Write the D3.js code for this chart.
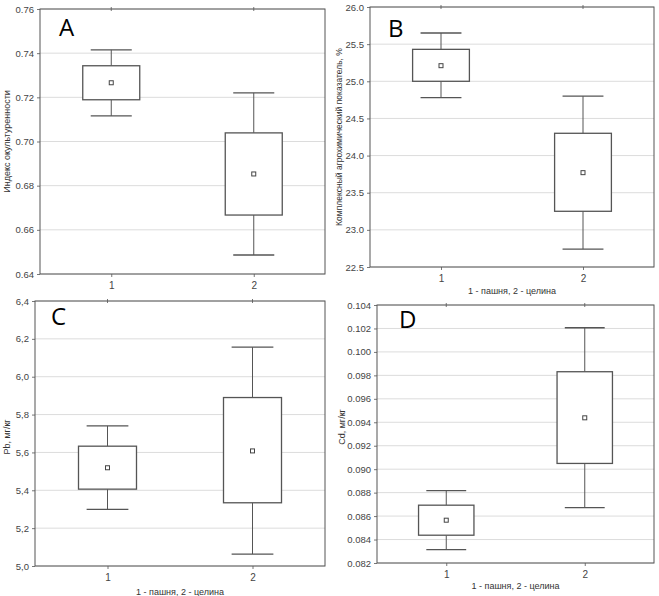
<!DOCTYPE html>
<html>
<head>
<meta charset="utf-8">
<script src="https://cdn.jsdelivr.net/npm/d3@7"></script>
<style>
  body { margin: 0; background: #fff; }
  svg { display: block; }
  text { font-family: "Liberation Sans", Arial, sans-serif; }
</style>
</head>
<body>
<svg id="chart" width="659" height="596"></svg>
<script>
// categories on the x axis (1 - arable land, 2 - virgin land)
const categories = ["1", "2"];
const xTitle = "1 - пашня, 2 - целина";

// A - cultivation index
const aMean = [0.7266, 0.6853];
const aBoxLow = [0.7189, 0.6667];
const aBoxHigh = [0.7343, 0.7039];
const aWhiskLow = [0.7116, 0.6486];
const aWhiskHigh = [0.7415, 0.7220];
const aTicks = [0.64, 0.66, 0.68, 0.70, 0.72, 0.74, 0.76];

// B - complex agrochemical index, %
const bMean = [25.21, 23.77];
const bBoxLow = [25.00, 23.25];
const bBoxHigh = [25.43, 24.30];
const bWhiskLow = [24.78, 22.74];
const bWhiskHigh = [25.65, 24.80];
const bTicks = [22.5, 23.0, 23.5, 24.0, 24.5, 25.0, 25.5, 26.0];

// C - Pb, mg/kg
const cMean = [5.519, 5.608];
const cBoxLow = [5.406, 5.334];
const cBoxHigh = [5.633, 5.890];
const cWhiskLow = [5.299, 5.063];
const cWhiskHigh = [5.740, 6.156];
const cTicks = [5.0, 5.2, 5.4, 5.6, 5.8, 6.0, 6.2, 6.4];

// D - Cd, mg/kg
const dMean = [0.08565, 0.09438];
const dBoxLow = [0.08437, 0.09049];
const dBoxHigh = [0.08693, 0.09831];
const dWhiskLow = [0.08314, 0.08673];
const dWhiskHigh = [0.08818, 0.10206];
const dTicks = [0.082, 0.084, 0.086, 0.088, 0.090, 0.092, 0.094, 0.096, 0.098, 0.100, 0.102, 0.104];

const svg = d3.select('#chart');

function drawPanel(p) {
    const g = svg.append('g');

    const x = d3.scalePoint()
        .domain(categories)
        .range([p.left, p.right])
        .padding(0.5);

    const y = d3.scaleLinear()
        .domain(d3.extent(p.ticks))
        .range([p.bottom, p.top]);

    const boxW = (p.right - p.left) * 0.2;
    const capW = boxW * 0.72;

    // grid
    g.append('g')
        .selectAll('line')
        .data(p.ticks)
        .enter()
        .append('line')
        .attr('x1', p.left)
        .attr('x2', p.right)
        .attr('y1', d => y(d))
        .attr('y2', d => y(d))
        .style('stroke', '#dcdcdc')
        .style('stroke-width', 1);

    // left axis
    g.append('g')
        .attr('transform', `translate(${p.left},0)`)
        .call(d3.axisLeft(y).tickValues(p.ticks).tickSize(3).tickPadding(3).tickFormat(p.format))
        .call(a => a.select('.domain').remove())
        .call(a => a.selectAll('line').style('stroke', '#777'))
        .call(a => a.selectAll('text').style('font-size', '9.5px').style('fill', '#444')
            .style('font-family', '"Liberation Sans", Arial, sans-serif'));

    // bottom axis
    g.append('g')
        .attr('transform', `translate(0,${p.bottom})`)
        .call(d3.axisBottom(x).tickSize(3).tickPadding(5))
        .call(a => a.select('.domain').remove())
        .call(a => a.selectAll('line').style('stroke', '#777'))
        .call(a => a.selectAll('text').style('font-size', '10px').style('fill', '#444')
            .style('font-family', '"Liberation Sans", Arial, sans-serif'));

    // small ticks on the top edge
    g.append('g')
        .selectAll('line')
        .data(categories)
        .enter()
        .append('line')
        .attr('x1', d => x(d))
        .attr('x2', d => x(d))
        .attr('y1', p.top - 2)
        .attr('y2', p.top + 2)
        .style('stroke', '#777');

    // frame
    g.append('rect')
        .attr('x', p.left)
        .attr('y', p.top)
        .attr('width', p.right - p.left)
        .attr('height', p.bottom - p.top)
        .style('fill', 'none')
        .style('stroke', '#555')
        .style('stroke-width', 1);

    const rows = categories.map((c, i) => ({
        cat: c,
        mean: p.mean[i],
        lo: p.boxLow[i],
        hi: p.boxHigh[i],
        wlo: p.whiskLow[i],
        whi: p.whiskHigh[i]
    }));

    const box = g.append('g')
        .selectAll('g')
        .data(rows)
        .enter()
        .append('g');

    const stroke = '#555';

    // whiskers
    box.append('line')
        .attr('x1', d => x(d.cat))
        .attr('x2', d => x(d.cat))
        .attr('y1', d => y(d.whi))
        .attr('y2', d => y(d.hi))
        .style('stroke', stroke);
    box.append('line')
        .attr('x1', d => x(d.cat))
        .attr('x2', d => x(d.cat))
        .attr('y1', d => y(d.lo))
        .attr('y2', d => y(d.wlo))
        .style('stroke', stroke);
    // caps
    box.append('line')
        .attr('x1', d => x(d.cat) - capW / 2)
        .attr('x2', d => x(d.cat) + capW / 2)
        .attr('y1', d => y(d.whi))
        .attr('y2', d => y(d.whi))
        .style('stroke', stroke)
        .style('stroke-width', 1.3);
    box.append('line')
        .attr('x1', d => x(d.cat) - capW / 2)
        .attr('x2', d => x(d.cat) + capW / 2)
        .attr('y1', d => y(d.wlo))
        .attr('y2', d => y(d.wlo))
        .style('stroke', stroke)
        .style('stroke-width', 1.3);
    // box
    box.append('rect')
        .attr('x', d => x(d.cat) - boxW / 2)
        .attr('y', d => y(d.hi))
        .attr('width', boxW)
        .attr('height', d => y(d.lo) - y(d.hi))
        .style('fill', '#fff')
        .style('stroke', stroke)
        .style('stroke-width', 1.3);
    // mean marker
    box.append('rect')
        .attr('x', d => x(d.cat) - 2)
        .attr('y', d => y(d.mean) - 2)
        .attr('width', 4)
        .attr('height', 4)
        .style('fill', '#fff')
        .style('stroke', '#444')
        .style('stroke-width', 1);

    // y title
    g.append('text')
        .attr('transform', `translate(${p.yTitleX},${p.yTitleY || (p.top + p.bottom) / 2}) rotate(-90)`)
        .attr('text-anchor', 'middle')
        .style('font-size', p.yTitleSize + 'px')
        .style('fill', '#333')
        .text(p.yTitle);

    // x title
    if (p.showX) {
        g.append('text')
            .attr('x', (p.left + p.right) / 2)
            .attr('y', p.xTitleY)
            .attr('text-anchor', 'middle')
            .style('font-size', '9px')
            .style('fill', '#333')
            .text(xTitle);
    }

    // panel letter
    g.append('text')
        .attr('x', p.letterX)
        .attr('y', p.letterY)
        .style('font-family', '"Open Sans", "Liberation Sans", sans-serif')
        .style('font-size', '24px')
        .style('fill', '#000')
        .text(p.letter);
}

drawPanel({
    letter: 'A', letterX: 59, letterY: 36,
    left: 40, right: 325, top: 9, bottom: 274,
    ticks: aTicks, format: d3.format('.2f'),
    mean: aMean, boxLow: aBoxLow, boxHigh: aBoxHigh, whiskLow: aWhiskLow, whiskHigh: aWhiskHigh,
    yTitle: 'Индекс окультуренности', yTitleX: 10, yTitleSize: 9,
    showX: false
});

drawPanel({
    letter: 'B', letterX: 388, letterY: 37,
    left: 370, right: 654, top: 7, bottom: 267,
    ticks: bTicks, format: d3.format('.1f'),
    mean: bMean, boxLow: bBoxLow, boxHigh: bBoxHigh, whiskLow: bWhiskLow, whiskHigh: bWhiskHigh,
    yTitle: 'Комплексный агрохимический показатель, %', yTitleX: 342, yTitleSize: 8.5,
    showX: true, xTitleY: 294
});

drawPanel({
    letter: 'C', letterX: 51, letterY: 325,
    left: 35, right: 325, top: 301, bottom: 566,
    ticks: cTicks, format: v => d3.format('.1f')(v).replace('.', ','),
    mean: cMean, boxLow: cBoxLow, boxHigh: cBoxHigh, whiskLow: cWhiskLow, whiskHigh: cWhiskHigh,
    yTitle: 'Pb, мг/кг', yTitleX: 10, yTitleY: 437, yTitleSize: 9,
    showX: true, xTitleY: 595
});

drawPanel({
    letter: 'D', letterX: 399, letterY: 328,
    left: 377, right: 654, top: 305, bottom: 563,
    ticks: dTicks, format: d3.format('.3f'),
    mean: dMean, boxLow: dBoxLow, boxHigh: dBoxHigh, whiskLow: dWhiskLow, whiskHigh: dWhiskHigh,
    yTitle: 'Cd, мг/кг', yTitleX: 345, yTitleY: 427, yTitleSize: 9,
    showX: true, xTitleY: 589
});
</script>
</body>
</html>
